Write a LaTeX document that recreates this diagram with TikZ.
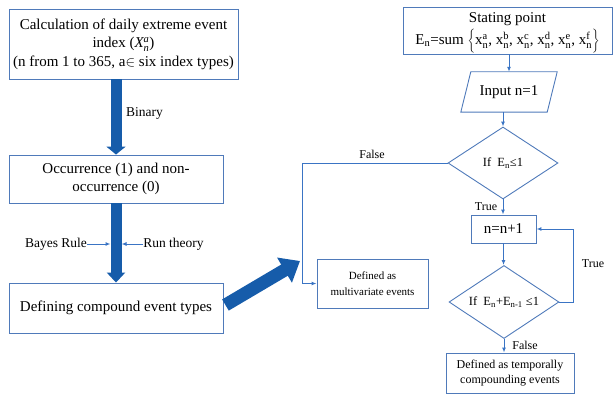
\documentclass[tikz,border=0pt]{standalone}
\usepackage{fontspec}
\setmainfont{Liberation Serif}
\usetikzlibrary{arrows.meta,shapes.geometric,calc}
\definecolor{boxc}{RGB}{79,122,186}
\definecolor{linec}{RGB}{58,116,196}
\definecolor{bigc}{RGB}{22,92,170}
\newcommand{\fs}[2]{\fontsize{#1}{#2}\selectfont}
\newcommand{\xsn}[1]{x$^{\mathrm{#1}}_{\mathrm{n}}$}
\begin{document}
\begin{tikzpicture}[x=1pt,y=-1pt,
  box/.style={draw=boxc,line width=0.9pt,align=center,inner sep=2pt},
  conn/.style={draw=linec,line width=1pt,-{Latex[length=5pt,width=4pt]}},
  bigarr/.style={draw=bigc,line width=11pt,-{Triangle[length=8pt,width=19pt]}},
  lbl/.style={font=\fs{12}{14},inner sep=0pt},
  side/.style={font=\fs{13.5}{16},inner sep=0pt},
  dia/.style={draw=boxc,line width=0.9pt,diamond,inner sep=0pt,aspect=1.5,font=\fs{12.5}{15}}]
\useasboundingbox (0,0) rectangle (614,404);

% left column
\node[box,minimum width=229pt,minimum height=70pt,font=\fs{15}{18.5}] (b1) at (123.5,44)
  {Calculation of daily extreme event\\index ($\mathit{X}^{\mathit{a}}_{\mathit{n}}$)\\(n from 1 to 365, a$\in$ six index types)};
\node[box,minimum width=214pt,minimum height=48pt,font=\fs{15}{18}] (b2) at (116,179)
  {Occurrence (1) and non-\\occurrence (0)};
\node[box,minimum width=214pt,minimum height=50pt,font=\fs{15}{18}] (b3) at (116,308)
  {Defining compound event types};

\draw[bigarr] (b1.south -| 116,0) -- (b2.north -| 116,0);
\node[side] (bin) at (144.5,113) {Binary};
\draw[bigarr,-{Triangle[length=10pt,width=18pt]}] (b2.south -| 116,0) -- (b3.north -| 116,0);

\node[side] (bayes) at (56,244) {Bayes Rule};
\node[side] (run) at (173.5,244) {Run theory};
\coordinate (shl) at (110.5,244);
\coordinate (shr) at (121.5,244);
\draw[conn] (bayes.east) -- (shl);
\draw[conn] (run.west) -- (shr);

\coordinate (tip) at (300,261);
\draw[draw=bigc,line width=13pt,-{Triangle[length=18pt,width=28pt]}] ($(b3.east)+(2,-3)$) -- (tip);

% right column
\node[box,minimum width=209pt,minimum height=47pt,font=\fs{15}{18}] (sp) at (507.5,30.5)
  {Stating point\\[4pt]E\textsubscript{n}=sum \smash{$\bigg\{$}\xsn{a}, \xsn{b}, \xsn{c}, \xsn{d}, \xsn{e}, \xsn{f}\smash{$\bigg\}$}};

\node[minimum width=86pt,minimum height=40pt,inner sep=0pt,font=\fs{15}{18}] (inp) at (509,92) {Input n=1};
\draw[draw=boxc,line width=0.9pt] ($(inp.north west)+(5,0)$) -- ($(inp.north east)+(5,0)$)
  -- ($(inp.south east)+(-5,0)$) -- ($(inp.south west)+(-5,0)$) -- cycle;
\draw[conn] (inp.north |- sp.south) -- (inp.north);

\node[dia,minimum width=110pt,minimum height=72pt] (d1) at (503,163) {If\ \ E\textsubscript{n}≤1};
\draw[conn] (d1.north |- inp.south) -- (d1.north);

\node[box,minimum width=65pt,minimum height=28pt,font=\fs{15}{18}] (nb) at (503.5,229) {n=n+1};
\draw[conn] (d1.south) -- (d1.south |- nb.north);
\node[lbl] (t1) at (486,207) {True};

\node[dia,minimum width=110pt,minimum height=73pt] (d2) at (504,302) {If\ \ E\textsubscript{n}+E\textsubscript{n-1} ≤1};
\draw[conn] (nb.south) -- (nb.south |- d2.north);
\draw[conn] (d2.east) -| ($(nb.east)+(37,0)$) -- (nb.east);
\node[lbl] (t2) at (593,264) {True};

\node[box,minimum width=128pt,minimum height=40pt,font=\fs{12}{15}] (b4) at (510,373)
  {Defined as temporally\\compounding events};
\draw[conn] (d2.south) -- (d2.south |- b4.north);
\node[lbl] (f2) at (525,345) {False};

\node[box,minimum width=111pt,minimum height=49pt,font=\fs{11}{16}] (mv) at (372.5,283.5)
  {Defined as\\multivariate events};
\draw[conn] (d1.west) -| ($(mv.west)+(-14,0)$) -- (mv.west);
\node[lbl] (f1) at (372,154) {False};
\end{tikzpicture}
\end{document}
